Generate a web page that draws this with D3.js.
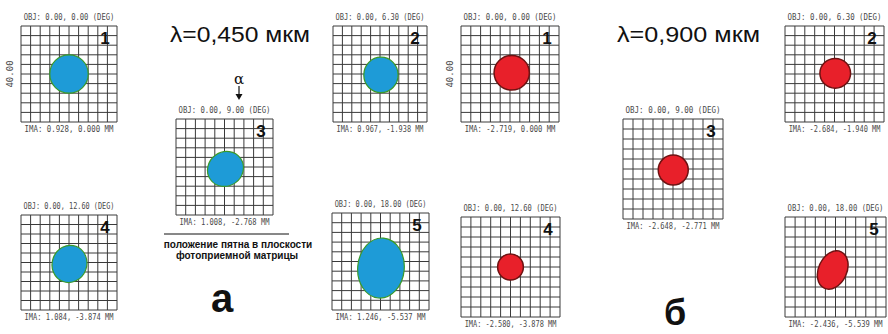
<!DOCTYPE html>
<html>
<head>
<meta charset="utf-8">
<script src="https://cdn.jsdelivr.net/npm/d3@7"></script>
<style>
  html, body { margin: 0; padding: 0; background: #fff; }
  svg { display: block; }
</style>
</head>
<body>
<svg id="fig" width="888" height="334"></svg>
<script>
// Spot diagrams for two wavelengths, five field angles each (40 µm box, 10 x 10 cells)
const fieldAngles = [0.00, 6.30, 9.00, 12.60, 18.00];       // OBJ, deg
const fieldNumbers = ["1", "2", "3", "4", "5"];

const imaX450 = [0.928, 0.967, 1.008, 1.084, 1.246];        // IMA, mm
const imaY450 = [0.000, -1.938, -2.768, -3.874, -5.537];
const imaX900 = [-2.719, -2.684, -2.648, -2.580, -2.436];
const imaY900 = [0.000, -1.940, -2.771, -3.878, -5.539];

// spot outline (ellipse) relative to box centre, µm
const spotDx450 = [0.0, 0.4, 0.4, 0.2, 0.2];
const spotDy450 = [0.0, -0.4, -0.8, -0.6, -2.7];
const spotRx450 = [8.0, 7.3, 7.6, 7.2, 9.6];
const spotRy450 = [8.0, 7.4, 7.1, 7.9, 12.4];
const spotTilt450 = [0, 0, -35, 20, 5];

const spotDx900 = [0.7, 0.3, 0.1, 0.0, -1.1];
const spotDy900 = [0.5, 0.3, -0.4, 0.0, -1.2];
const spotRx900 = [7.2, 6.2, 6.0, 5.2, 5.6];
const spotRy900 = [7.2, 6.2, 6.0, 5.2, 8.0];
const spotTilt900 = [0, 0, 0, 0, 25];

const boxSizeUm = 40.00;
const gridStepUm = 4;

// box placement on the page: [left, top, width, height]
const boxes450 = [[21, 26, 96, 96], [333, 26, 94, 96], [176, 119, 97, 96], [21, 215, 96, 95], [332, 213, 97, 97]];
const boxes900 = [[461, 26, 98, 96], [785, 26, 99, 96], [623, 119, 100, 100], [461, 217, 99, 100], [785, 217, 101, 100]];

const svg = d3.select("#fig");
const f2 = d3.format(".2f"), f3 = d3.format(".3f");
const fmt3 = v => f3(v).replace("−", "-");
const mono = "DejaVu Sans Mono, monospace";

// condensed plot-label text: horizontally squeezed to the given width
function squeezedText(g, cx, baseline, width, str) {
  const t = g.append("text").attr("text-anchor", "middle")
    .attr("font-family", mono).attr("font-size", 9).attr("fill", "#4a4a4a").text(str);
  const natural = t.node().getComputedTextLength();
  const k = Math.min(1, width / natural);
  t.attr("transform", `translate(${cx},${baseline}) scale(${k},1)`);
  return t;
}

function drawSet(boxes, imaX, imaY, dx, dy, rx, ry, tilt, fill, edge, edgeW) {
  boxes.forEach((b, i) => {
    const [left, top, w, h] = b;
    const x = d3.scaleLinear().domain([-boxSizeUm / 2, boxSizeUm / 2]).range([left, left + w]);
    const y = d3.scaleLinear().domain([-boxSizeUm / 2, boxSizeUm / 2]).range([top + h, top]);
    const g = svg.append("g");
    const ticks = d3.range(-boxSizeUm / 2, boxSizeUm / 2 + 0.01, gridStepUm);

    g.selectAll("line.v").data(ticks).join("line")
      .attr("x1", d => x(d)).attr("x2", d => x(d))
      .attr("y1", y(-20)).attr("y2", y(20))
      .attr("stroke", "#3a3a3a").attr("stroke-width", 1);
    g.selectAll("line.h").data(ticks).join("line")
      .attr("y1", d => y(d)).attr("y2", d => y(d))
      .attr("x1", x(-20)).attr("x2", x(20))
      .attr("stroke", "#3a3a3a").attr("stroke-width", 1);

    // spot
    const cx = x(dx[i]), cy = y(dy[i]);
    g.append("ellipse")
      .attr("cx", cx).attr("cy", cy)
      .attr("rx", x(rx[i]) - x(0)).attr("ry", y(0) - y(ry[i]))
      .attr("transform", `rotate(${tilt[i]},${cx},${cy})`)
      .attr("fill", fill).attr("stroke", edge).attr("stroke-width", edgeW);

    // field number
    g.append("text").attr("x", left + w - 12).attr("y", top + 18)
      .attr("text-anchor", "middle")
      .attr("font-family", "Liberation Sans, Arial, sans-serif")
      .attr("font-weight", "bold").attr("font-size", 17).attr("fill", "#111")
      .text(fieldNumbers[i]);

    squeezedText(g, left + w / 2, top - 6, w - 5, `OBJ: ${f2(0)}, ${f2(fieldAngles[i])} (DEG)`);
    squeezedText(g, left + w / 2, top + h + 10, w - 7, `IMA: ${fmt3(imaX[i])}, ${fmt3(imaY[i])} MM`);

    if (i === 0) {
      g.append("text")
        .attr("transform", `translate(${left - 8},${top + h / 2}) rotate(-90)`)
        .attr("text-anchor", "middle").attr("font-family", mono).attr("font-size", 9)
        .attr("fill", "#4a4a4a").text(f2(boxSizeUm));
    }
  });
}

drawSet(boxes450, imaX450, imaY450, spotDx450, spotDy450, spotRx450, spotRy450, spotTilt450, "#1e9bd7", "#3a9a2a", 1.2);
drawSet(boxes900, imaX900, imaY900, spotDx900, spotDy900, spotRx900, spotRy900, spotTilt900, "#e8202a", "#6e1212", 1.5);

const sans = "Liberation Sans, Arial, sans-serif";
svg.append("text").attr("x", 170).attr("y", 42)
  .attr("font-family", sans).attr("font-size", 22).attr("fill", "#111")
  .attr("textLength", 140).attr("lengthAdjust", "spacingAndGlyphs").text("λ=0,450 мкм");
svg.append("text").attr("x", 617).attr("y", 42)
  .attr("font-family", sans).attr("font-size", 22).attr("fill", "#111")
  .attr("textLength", 143).attr("lengthAdjust", "spacingAndGlyphs").text("λ=0,900 мкм");

// incidence direction marker above box 3
svg.append("text").attr("x", 239).attr("y", 84).attr("text-anchor", "middle")
  .attr("font-family", "DejaVu Serif, serif").attr("font-size", 15).attr("fill", "#111").text("α");
svg.append("line").attr("x1", 239).attr("x2", 239).attr("y1", 86).attr("y2", 96)
  .attr("stroke", "#111").attr("stroke-width", 1.2);
svg.append("path").attr("d", "M235.5,94 L242.5,94 L239,100 Z").attr("fill", "#111");

// caption under box 3
svg.append("line").attr("x1", 164).attr("x2", 289).attr("y1", 234).attr("y2", 234)
  .attr("stroke", "#111").attr("stroke-width", 1);
svg.append("text").attr("x", 238).attr("y", 248).attr("text-anchor", "middle")
  .attr("font-family", sans).attr("font-weight", "bold").attr("font-size", 10).attr("fill", "#111")
  .text("положение пятна в плоскости");
svg.append("text").attr("x", 237).attr("y", 259).attr("text-anchor", "middle")
  .attr("font-family", sans).attr("font-weight", "bold").attr("font-size", 10).attr("fill", "#111")
  .text("фотоприемной матрицы");

svg.append("text").attr("x", 222).attr("y", 312).attr("text-anchor", "middle")
  .attr("font-family", sans).attr("font-weight", "bold").attr("font-size", 40).attr("fill", "#111").text("а");
svg.append("text").attr("x", 675).attr("y", 325).attr("text-anchor", "middle")
  .attr("font-family", sans).attr("font-weight", "bold").attr("font-size", 36).attr("fill", "#111").text("б");
</script>
</body>
</html>
